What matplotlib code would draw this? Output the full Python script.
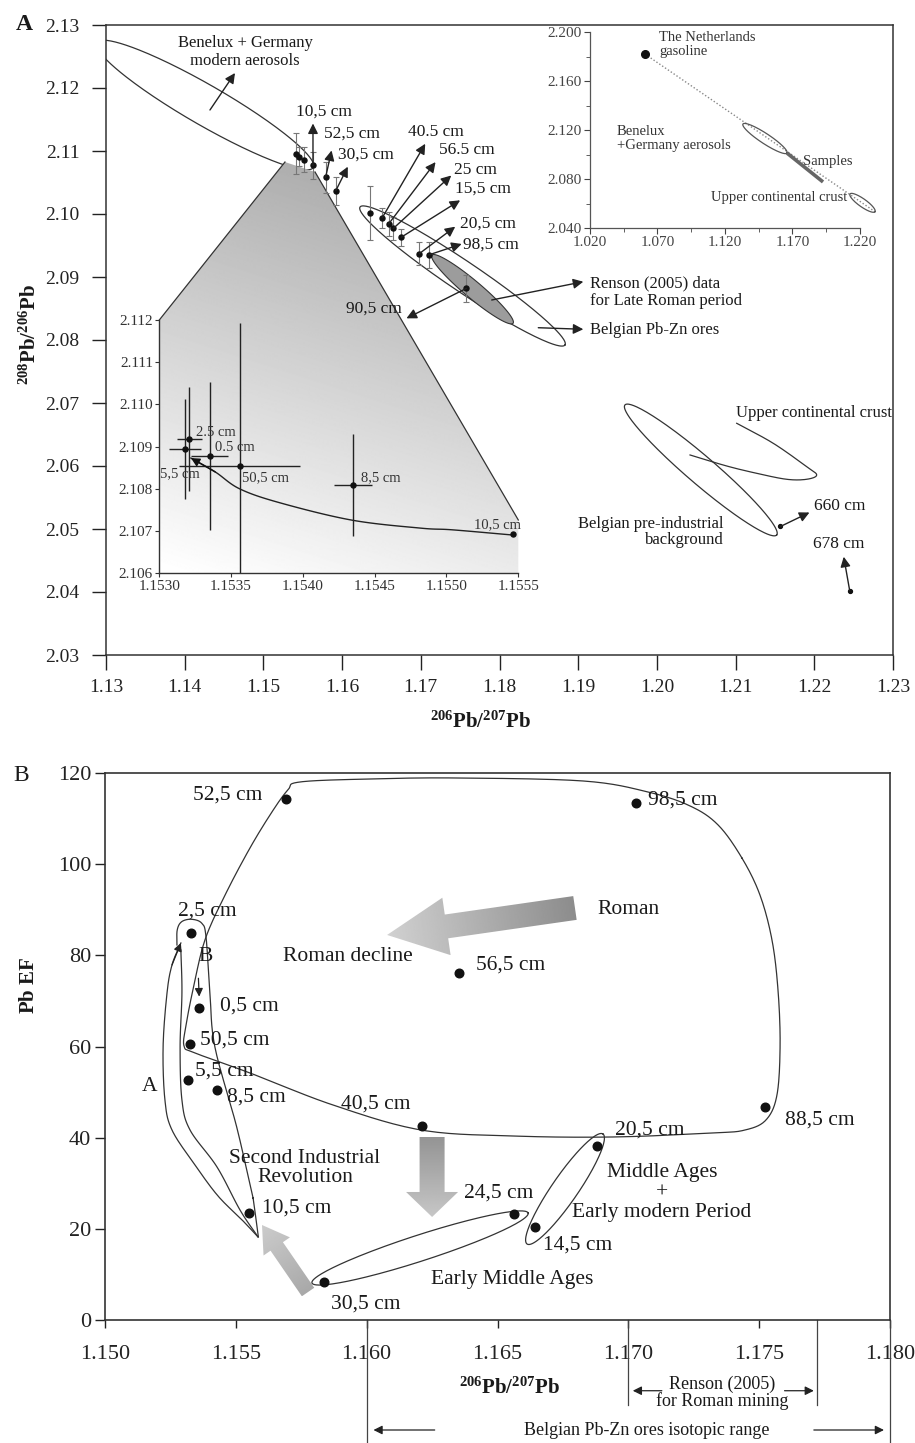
import numpy as np
import matplotlib
matplotlib.use('Agg')
import matplotlib.pyplot as plt
from matplotlib.patches import Polygon
import matplotlib.transforms as mtransforms

plt.rcParams['font.family'] = ['Liberation Serif', 'DejaVu Serif']
plt.rcParams['mathtext.fontset'] = 'custom'
plt.rcParams['mathtext.rm'] = 'Liberation Serif'
plt.rcParams['mathtext.bf'] = 'Liberation Serif:bold'
plt.rcParams['mathtext.it'] = 'Liberation Serif:italic'
plt.rcParams['text.color'] = '#1a1a1a'

# ============================ DATA ============================
# ---- Panel A, main plot: 206Pb/207Pb vs 208Pb/206Pb
a_labels = ['', '', '', '10,5 cm', '52,5 cm', '30,5 cm', '', '40.5 cm',
            '56.5 cm', '25 cm', '15,5 cm', '20,5 cm', '98,5 cm', '90,5 cm']
a_x = [1.1541, 1.1545, 1.1552, 1.1563, 1.1579, 1.1592, 1.1636, 1.1651,
       1.1659, 1.1665, 1.1675, 1.1698, 1.1710, 1.1758]
a_y = [2.1096, 2.1091, 2.1086, 2.1077, 2.1058, 2.1037, 2.1002, 2.0994,
       2.0984, 2.0977, 2.0963, 2.0937, 2.0935, 2.0882]
a_err = [0.0033, 0.0015, 0.0020, 0.0022, 0.0024, 0.0022, 0.0043, 0.0016,
         0.0019, 0.0019, 0.0013, 0.0018, 0.0021, 0.0021]

deep_labels = ['660 cm', '678 cm']
deep_x = [1.2157, 1.2245]
deep_y = [2.0504, 2.0402]

a_xticks = [1.13, 1.14, 1.15, 1.16, 1.17, 1.18, 1.19, 1.20, 1.21, 1.22, 1.23]
a_yticks = [2.03, 2.04, 2.05, 2.06, 2.07, 2.08, 2.09, 2.10, 2.11, 2.12, 2.13]

# isotopic fields (centre, end of long semi-axis)
benelux_c, benelux_tip = (1.14258, 2.11730), (1.15634, 2.10738)
ores_c, ores_tip = (1.17530, 2.09016), (1.18832, 2.07921)
renson_c, renson_tip = (1.17657, 2.08806), (1.18172, 2.08265)
preind_c, preind_tip = (1.20558, 2.05937), (1.21522, 2.04905)
ucc_x = [1.21014, 1.21479, 1.21903, 1.22030, 1.21903, 1.21649, 1.21268, 1.20887, 1.20421]
ucc_y = [2.06678, 2.06360, 2.05989, 2.05857, 2.05789, 2.05789, 2.05884, 2.06000, 2.06175]

# zoom wedge (shaded area leading to the enlarged view)
wedge_x = [1.15274, 1.15656, 1.18239, 1.18239, 1.13677, 1.13677]
wedge_y = [2.10825, 2.10667, 2.05143, 2.04297, 2.04297, 2.08317]

# ---- Panel A, enlarged inset
in_labels = ['2.5 cm', '5,5 cm', '0.5 cm', '50,5 cm', '8,5 cm', '10,5 cm']
in_x = [1.15321, 1.15318, 1.15335, 1.15356, 1.15435, 1.15546]
in_y = [2.10918, 2.10895, 2.10878, 2.10853, 2.10809, 2.10692]
in_xerr = [0.00009, 0.00011, 0.00013, 0.00042, 0.00013, 0.0]
in_yerr = [0.00124, 0.00119, 0.00175, 0.00340, 0.00121, 0.0]
mix_x = [1.15322, 1.15339, 1.15356, 1.15384, 1.15434, 1.15482, 1.15504, 1.15545]
mix_y = [2.10873, 2.10840, 2.10800, 2.10767, 2.10726, 2.10707, 2.10703, 2.10691]
in_xticks = [1.1530, 1.1535, 1.1540, 1.1545, 1.1550, 1.1555]
in_yticks = [2.106, 2.107, 2.108, 2.109, 2.110, 2.111, 2.112]

# ---- Panel A, overview inset (top right)
gas_x, gas_y = 1.0607, 2.1820
ov_benelux_c, ov_benelux_tip = (1.1496, 2.11305), (1.1659, 2.1012)
ov_samples_x = [1.1659, 1.1926]
ov_samples_y = [2.1012, 2.0776]
ov_ucc_c, ov_ucc_tip = (1.22185, 2.06055), (1.2311, 2.0533)
ov_xticks = [1.020, 1.070, 1.120, 1.170, 1.220]
ov_yticks = [2.040, 2.080, 2.120, 2.160, 2.200]

# ---- Panel B: 206Pb/207Pb vs Pb enrichment factor
b_labels = ['52,5 cm', '98,5 cm', '2,5 cm', '56,5 cm', '0,5 cm', '50,5 cm', '5,5 cm',
            '8,5 cm', '40,5 cm', '88,5 cm', '20,5 cm', '10,5 cm', '24,5 cm', '14,5 cm', '30,5 cm']
b_x = [1.15692, 1.17029, 1.15328, 1.16354, 1.15359, 1.15325, 1.15318,
       1.15429, 1.16213, 1.17522, 1.16881, 1.15550, 1.16564, 1.16643, 1.15836]
b_ef = [114.3, 113.4, 85.0, 76.2, 68.4, 60.6, 52.7,
        50.5, 42.6, 46.8, 38.2, 23.4, 23.3, 20.5, 8.4]
b_xticks = [1.150, 1.155, 1.160, 1.165, 1.170, 1.175, 1.180]
b_yticks = [0, 20, 40, 60, 80, 100, 120]

roman_x = [1.17434, 1.17503, 1.17549, 1.17572, 1.17580, 1.17568, 1.17526, 1.17446, 1.17324,
           1.16941, 1.16559, 1.16208, 1.15871, 1.15554, 1.15344, 1.15302, 1.15310, 1.15336,
           1.15382, 1.15459, 1.15554, 1.15638, 1.15699, 1.15745, 1.16013, 1.16338, 1.16827,
           1.17075, 1.17236, 1.17343]
roman_y = [101.36, 93.24, 83.37, 72.40, 60.33, 49.36, 43.88, 41.68, 41.03,
           40.15, 40.37, 41.68, 47.17, 54.19, 58.58, 60.11, 64.72, 72.40,
           83.37, 93.24, 103.55, 111.45, 116.28, 118.03, 118.69, 118.91, 118.25,
           115.84, 112.77, 108.60]
pathA_outer_x = [1.15290, 1.15256, 1.15237, 1.15222, 1.15229, 1.15256, 1.15344, 1.15432, 1.15524, 1.15585]
pathA_outer_y = [82.71, 77.88, 71.74, 59.89, 48.27, 41.68, 34.01, 27.20, 21.94, 18.21]
pathA_inner_x = [1.15290, 1.15294, 1.15287, 1.15294, 1.15325, 1.15428, 1.15516, 1.15585]
pathA_inner_y = [81.17, 71.74, 59.89, 48.27, 41.68, 33.57, 24.13, 18.21]
pathB_x = [1.15275, 1.15276, 1.15293, 1.15331, 1.15370, 1.15386, 1.15401, 1.15420,
           1.15503, 1.15561, 1.15567, 1.15586]
pathB_y = [82.27, 85.56, 87.38, 87.91, 87.03, 84.09, 71.74, 59.89, 42.41, 27.86, 26.33, 18.28]
midages_c, midages_tip = (1.16758, 28.74), (1.16903, 40.81)
earlyma_c, earlyma_tip = (1.16204, 15.80), (1.16617, 23.47)
renson_range = [1.170, 1.1772]
belgian_range = [1.160, 1.180]

# ============================ HELPERS ============================
W, H = 915.0, 1443.0


def rect(l, t, r, b):
    return [l / W, 1 - b / H, (r - l) / W, (b - t) / H]


def ellipse_pts(ax, c, tip, half_w, n=240):
    T = ax.transData
    cc = T.transform(c)
    a = T.transform(tip) - cc
    u = a / np.hypot(*a)
    v = np.array([-u[1], u[0]]) * half_w
    th = np.linspace(0, 2 * np.pi, n)
    P = cc + np.outer(np.cos(th), a) + np.outer(np.sin(th), v)
    return T.inverted().transform(P)


def smooth(ax, xs, ys, closed=False, n=16):
    T = ax.transData
    P = T.transform(np.column_stack([xs, ys]))
    if closed:
        P = np.vstack([P[-1], P, P[0], P[1]])
    else:
        P = np.vstack([2 * P[0] - P[1], P, 2 * P[-1] - P[-2]])
    out = []
    t = np.linspace(0, 1, n, endpoint=False)[:, None]
    for i in range(1, len(P) - 2):
        p0, p1, p2, p3 = P[i - 1], P[i], P[i + 1], P[i + 2]
        out.append(0.5 * (2 * p1 + (-p0 + p2) * t + (2 * p0 - 5 * p1 + 4 * p2 - p3) * t ** 2
                          + (-p0 + 3 * p1 - 3 * p2 + p3) * t ** 3))
    out.append(P[-2][None, :])
    return T.inverted().transform(np.vstack(out))


def gradient_poly(ax, verts, p_from, p_to, g_from, g_to, zorder):
    T = ax.transData
    V = T.transform(np.asarray(verts))
    x0, y0 = V.min(0)
    x1, y1 = V.max(0)
    nx, ny = int(x1 - x0) + 2, int(y1 - y0) + 2
    gx, gy = np.meshgrid(np.linspace(x0, x1, nx), np.linspace(y0, y1, ny))
    a = T.transform(p_from)
    d = T.transform(p_to) - a
    tt = np.clip(((gx - a[0]) * d[0] + (gy - a[1]) * d[1]) / (d @ d), 0, 1)
    img = g_from + (g_to - g_from) * tt
    (dx0, dy0), (dx1, dy1) = T.inverted().transform([[x0, y0], [x1, y1]])
    xl, yl = ax.get_xlim(), ax.get_ylim()
    im = ax.imshow(img, cmap='gray', vmin=0, vmax=1, origin='lower',
                   extent=[dx0, dx1, dy0, dy1], aspect='auto', zorder=zorder,
                   interpolation='bilinear')
    poly = Polygon(verts, closed=True, facecolor='none', edgecolor='none', transform=ax.transData)
    ax.add_patch(poly)
    im.set_clip_path(poly)
    ax.set_xlim(xl)
    ax.set_ylim(yl)


def arrow_verts(ax, tail, tip, shaft, head, headlen):
    T = ax.transData
    a = T.transform(tail)
    b = T.transform(tip)
    d = b - a
    u = d / np.hypot(*d)
    n = np.array([-u[1], u[0]])
    hb = b - u * headlen
    P = [a + n * shaft / 2, hb + n * shaft / 2, hb + n * head / 2, b,
         hb - n * head / 2, hb - n * shaft / 2, a - n * shaft / 2]
    return T.inverted().transform(np.array(P))


fig = plt.figure(figsize=(9.15, 14.43), dpi=100)

# ============================ PANEL A ============================
axA = fig.add_axes(rect(106, 25, 893, 655))
axA.set_xlim(1.13, 1.23)
axA.set_ylim(2.03, 2.13)
axA.set_xticks(a_xticks)
axA.set_xticklabels(['%.2f' % v for v in a_xticks])
axA.set_yticks(a_yticks)
axA.set_yticklabels(['%.2f' % v for v in a_yticks])
axA.tick_params(axis='x', direction='out', length=11, width=1, pad=6, labelsize=14, colors='#222')
axA.tick_params(axis='y', direction='out', length=10, width=1, pad=9, labelsize=14, colors='#222')
for s in axA.spines.values():
    s.set_linewidth(1.1)
    s.set_color('#333')

# Benelux + Germany aerosols field
e = ellipse_pts(axA, benelux_c, benelux_tip, 20)
axA.plot(e[:, 0], e[:, 1], color='#333', lw=0.9, zorder=1)

# zoom wedge with gradient
wv = np.column_stack([wedge_x, wedge_y])
gradient_poly(axA, wv, (1.15465, 2.10778), (1.13813, 2.04349), 0.68, 1.0, 2)
axA.plot([wedge_x[5], wedge_x[0]], [wedge_y[5], wedge_y[0]], color='#333', lw=0.9, zorder=3)
axA.plot([wedge_x[1], wedge_x[2]], [wedge_y[1], wedge_y[2]], color='#333', lw=0.9, zorder=3)

# Belgian ores field and Renson field
e = ellipse_pts(axA, ores_c, ores_tip, 15)
axA.plot(e[:, 0], e[:, 1], color='#333', lw=0.9, zorder=3)
e = ellipse_pts(axA, renson_c, renson_tip, 8.5)
axA.add_patch(Polygon(e, closed=True, facecolor='#9c9c9c', edgecolor='#333', lw=0.8, zorder=3))
# pre-industrial field and upper crust
e = ellipse_pts(axA, preind_c, preind_tip, 14)
axA.plot(e[:, 0], e[:, 1], color='#333', lw=0.9, zorder=3)
u = smooth(axA, ucc_x, ucc_y)
axA.plot(u[:, 0], u[:, 1], color='#333', lw=0.9, zorder=3)

# samples
axA.errorbar(a_x, a_y, yerr=a_err, fmt='none', ecolor='#777', elinewidth=0.8, capsize=2.5,
             capthick=0.8, zorder=4)
axA.plot(a_x, a_y, 'o', color='#111', ms=3.6, zorder=5)
axA.plot(deep_x, deep_y, 'o', color='#111', ms=2.8, zorder=5)

arrow_kw = dict(arrowstyle='<|-', color='#222', lw=1.0, mutation_scale=15, shrinkA=0, shrinkB=0)
a_lab_off = {  # arrow head (dx, dy) and label centre (dx, dy), pixels from the point
    '10,5 cm': (0, 42, 11, 54), '52,5 cm': (6, 27, 26, 44), '30,5 cm': (12, 24, 30, 36),
    '40.5 cm': (43, 74, 54, 86), '56.5 cm': (47, 62, 78, 74), '25 cm': (58, 53, 82, 58),
    '15,5 cm': (59, 37, 82, 49), '20,5 cm': (36, 27, 69, 30), '98,5 cm': (33, 11, 62, 10),
    '90,5 cm': (-60, -30, -93, -20)}
for lab, x, y in zip(a_labels, a_x, a_y):
    if not lab:
        continue
    hx, hy, tx, ty = a_lab_off[lab]
    axA.annotate('', xy=(x, y), xytext=(hx, hy), textcoords='offset pixels', arrowprops=arrow_kw, zorder=6)
    axA.annotate(lab, xy=(x, y), xytext=(tx, ty), textcoords='offset pixels', ha='center',
                 va='center', fontsize=12.5, zorder=6)
deep_off = {'660 cm': (29, 14, 59, 20), '678 cm': (-6, 34, -11, 47)}
for lab, x, y in zip(deep_labels, deep_x, deep_y):
    hx, hy, tx, ty = deep_off[lab]
    axA.annotate('', xy=(x, y), xytext=(hx, hy), textcoords='offset pixels', arrowprops=arrow_kw, zorder=6)
    axA.annotate(lab, xy=(x, y), xytext=(tx, ty), textcoords='offset pixels', ha='center',
                 va='center', fontsize=12.5, zorder=6)

# field labels
head_kw = dict(arrow_kw)
head_kw['arrowstyle'] = '-|>'
axA.text(1.14766, 2.12571, 'Benelux + Germany\nmodern aerosols', ha='center', va='center',
         fontsize=12, linespacing=1.1, zorder=6)
axA.annotate('', xy=(1.14639, 2.12238), xytext=(1.14321, 2.11651), arrowprops=head_kw, zorder=6)
axA.text(1.1915, 2.08762, 'Renson (2005) data\nfor Late Roman period', ha='left', va='center',
         fontsize=12, linespacing=1.1, zorder=6)
axA.annotate('', xy=(1.19065, 2.08925), xytext=(1.17901, 2.08635), arrowprops=head_kw, zorder=6)
axA.text(1.1915, 2.08159, 'Belgian Pb-Zn ores', ha='left', va='center', fontsize=12, zorder=6)
axA.annotate('', xy=(1.19065, 2.08170), xytext=(1.18493, 2.08195), arrowprops=head_kw, zorder=6)
axA.text(1.21005, 2.06841, 'Upper continental crust', ha='left', va='center', fontsize=12, zorder=6)
axA.text(1.20844, 2.04952, 'Belgian pre-industrial\nbackground', ha='right', va='center',
         fontsize=12, linespacing=1.05, zorder=6)

# ---------------- overview inset (top right) ----------------
axO = fig.add_axes(rect(590, 32, 860, 228))
axO.patch.set_alpha(0)
axO.set_xlim(1.020, 1.220)
axO.set_ylim(2.040, 2.200)
axO.spines['top'].set_visible(False)
axO.spines['right'].set_visible(False)
for s in ('left', 'bottom'):
    axO.spines[s].set_color('#555')
    axO.spines[s].set_linewidth(0.9)
axO.set_xticks(ov_xticks)
axO.set_xticklabels(['%.3f' % v for v in ov_xticks])
axO.set_yticks(ov_yticks)
axO.set_yticklabels(['%.3f' % v for v in ov_yticks])
axO.set_xticks([v + 0.025 for v in ov_xticks[:-1]], minor=True)
axO.set_yticks([v + 0.02 for v in ov_yticks[:-1]], minor=True)
axO.tick_params(which='both', direction='out', colors='#444', labelsize=11, pad=2)
axO.tick_params(which='major', length=4)
axO.tick_params(which='minor', length=3)
axO.plot([gas_x, ov_ucc_tip[0]], [gas_y, ov_ucc_tip[1]], color='#888', lw=1.0, ls=(0, (1, 1.5)), clip_on=False)
e = ellipse_pts(axO, ov_benelux_c, ov_benelux_tip, 5)
axO.plot(e[:, 0], e[:, 1], color='#555', lw=0.9)
axO.plot(ov_samples_x, ov_samples_y, color='#666', lw=2.6, solid_capstyle='butt')
e = ellipse_pts(axO, ov_ucc_c, ov_ucc_tip, 4)
axO.plot(e[:, 0], e[:, 1], color='#555', lw=0.9, clip_on=False)
axO.plot([gas_x], [gas_y], 'o', color='#111', ms=5.5)
axO.text(1.0711, 2.1894, 'The Netherlands\ngasoline', ha='left', va='center', fontsize=10.5,
         linespacing=1.1, color='#333')
axO.text(1.040, 2.1131, 'Benelux\n+Germany aerosols', ha='left', va='center', fontsize=10.5,
         linespacing=1.1, color='#333')
axO.text(1.1778, 2.0939, 'Samples', ha='left', va='center', fontsize=10.5, color='#333')
axO.text(1.2104, 2.0645, 'Upper continental crust', ha='right', va='center', fontsize=10.5, color='#333')

# ---------------- enlarged inset ----------------
axI = fig.add_axes(rect(159.3, 320, 518.3, 573.3))
axI.patch.set_alpha(0)
axI.set_xlim(1.1530, 1.1555)
axI.set_ylim(2.106, 2.112)
axI.spines['top'].set_visible(False)
axI.spines['right'].set_visible(False)
for s in ('left', 'bottom'):
    axI.spines[s].set_color('#333')
    axI.spines[s].set_linewidth(1.0)
axI.set_xticks(in_xticks)
axI.set_xticklabels(['%.4f' % v for v in in_xticks])
axI.set_yticks(in_yticks)
axI.set_yticklabels(['%.3f' % v for v in in_yticks])
axI.tick_params(direction='out', length=3, pad=1.5, labelsize=11, colors='#333')
axI.errorbar(in_x, in_y, xerr=in_xerr, yerr=in_yerr, fmt='none', ecolor='#222', elinewidth=1.0, capsize=0)
mc = smooth(axI, mix_x, mix_y)
axI.plot(mc[:, 0], mc[:, 1], color='#222', lw=1.0)
axI.annotate('', xy=(mix_x[0], mix_y[0]), xytext=(mix_x[1], mix_y[1]),
             arrowprops=dict(arrowstyle='-|>', color='#111', lw=1.0, mutation_scale=13, shrinkA=0, shrinkB=0))
axI.plot(in_x, in_y, 'o', color='#111', ms=3.6, zorder=5)
in_off = {'2.5 cm': (26, 7), '0.5 cm': (25, 8), '5,5 cm': (-5, -25), '50,5 cm': (26, -11),
          '8,5 cm': (28, 7), '10,5 cm': (-15, 10)}
for lab, x, y in zip(in_labels, in_x, in_y):
    axI.annotate(lab, xy=(x, y), xytext=in_off[lab], textcoords='offset pixels', ha='center',
                 va='center', fontsize=10.5, color='#333')

fig.text(24 / W, 1 - 24 / H, 'A', fontsize=17, fontweight='bold', ha='center', va='center')
fig.text(30 / W, 1 - 335 / H, r'$\mathbf{^{208}Pb/^{206}Pb}$', rotation=90, fontsize=15,
         ha='center', va='center')
fig.text(480 / W, 1 - 722 / H, r'$\mathbf{^{206}Pb/^{207}Pb}$', fontsize=15, ha='center', va='center')

# ============================ PANEL B ============================
axB = fig.add_axes(rect(105, 773, 890, 1320))
axB.set_xlim(1.150, 1.180)
axB.set_ylim(0, 120)
axB.set_xticks(b_xticks)
axB.set_xticklabels(['%.3f' % v for v in b_xticks])
axB.set_yticks(b_yticks)
axB.set_yticklabels([str(v) for v in b_yticks])
axB.tick_params(axis='x', direction='out', length=6, width=1, pad=12, labelsize=16, colors='#222')
axB.tick_params(axis='y', direction='out', length=7, width=1, pad=3, labelsize=16, colors='#222')
for s in axB.spines.values():
    s.set_linewidth(1.2)
    s.set_color('#333')

# gradient arrows (trend directions)
av = arrow_verts(axB, (1.16796, 90.39), (1.16078, 84.47), 24, 58, 60)
gradient_poly(axB, av, (1.16796, 90.39), (1.16078, 84.47), 0.55, 0.82, 1)
av = arrow_verts(axB, (1.16250, 40.15), (1.16250, 22.60), 25, 52, 25)
gradient_poly(axB, av, (1.16250, 40.15), (1.16250, 22.60), 0.58, 0.78, 1)
av = arrow_verts(axB, (1.15776, 6.14), (1.15600, 20.84), 15, 32, 26)
gradient_poly(axB, av, (1.15776, 6.14), (1.15600, 20.84), 0.66, 0.80, 1)

lk = dict(color='#333', lw=0.9, zorder=3)
r = smooth(axB, roman_x, roman_y, closed=True)
axB.plot(r[:, 0], r[:, 1], **lk)
p = smooth(axB, pathA_outer_x, pathA_outer_y)
axB.plot(p[:, 0], p[:, 1], **lk)
p = smooth(axB, pathA_inner_x, pathA_inner_y)
axB.plot(p[:, 0], p[:, 1], **lk)
p = smooth(axB, pathB_x, pathB_y)
axB.plot(p[:, 0], p[:, 1], **lk)
small_arrow = dict(arrowstyle='-|>', color='#222', lw=0.9, mutation_scale=12, shrinkA=0, shrinkB=0)
axB.annotate('', xy=(pathA_outer_x[0], pathA_outer_y[0]), xytext=(pathA_outer_x[1], pathA_outer_y[1]),
             arrowprops=small_arrow)
axB.annotate('', xy=(1.15360, 70.94), xytext=(1.15357, 74.97), arrowprops=small_arrow)
e = ellipse_pts(axB, midages_c, midages_tip, 13)
axB.plot(e[:, 0], e[:, 1], **lk)
e = ellipse_pts(axB, earlyma_c, earlyma_tip, 13)
axB.plot(e[:, 0], e[:, 1], **lk)

axB.plot(b_x, b_ef, 'o', color='#111', ms=6.2, zorder=5)
b_off = {'52,5 cm': (-24, 4, 'right'), '98,5 cm': (12, 3, 'left'), '2,5 cm': (16, 21, 'center'),
         '56,5 cm': (17, 8, 'left'), '0,5 cm': (21, 2, 'left'), '50,5 cm': (10, 4, 'left'),
         '5,5 cm': (7, 9, 'left'), '8,5 cm': (10, -7, 'left'), '40,5 cm': (-47, 22, 'center'),
         '88,5 cm': (20, -13, 'left'), '20,5 cm': (18, 16, 'left'), '10,5 cm': (13, 5, 'left'),
         '24,5 cm': (-16, 21, 'center'), '14,5 cm': (8, -18, 'left'), '30,5 cm': (42, -22, 'center')}
for lab, x, y in zip(b_labels, b_x, b_ef):
    dx, dy, ha = b_off[lab]
    axB.annotate(lab, xy=(x, y), xytext=(dx, dy), textcoords='offset pixels', ha=ha,
                 va='center', fontsize=15.5, zorder=6)

bt = dict(fontsize=15.5, ha='center', va='center', zorder=6)
axB.text(1.16999, 90.10, 'Roman', **bt)
axB.text(1.15929, 79.70, 'Roman decline', **bt)
axB.text(1.15172, 51.18, 'A', **bt)
axB.text(1.15386, 79.70, 'B', **bt)
axB.text(1.15764, 33.35, 'Second Industrial\nRevolution', linespacing=1.05, **bt)
axB.text(1.17129, 27.93, 'Middle Ages\n+\nEarly modern Period', linespacing=1.08, **bt)
axB.text(1.16555, 8.93, 'Early Middle Ages', **bt)

# ranges below the axis
trB = mtransforms.blended_transform_factory(axB.transData, axB.transAxes)
for xv, yb in [(belgian_range[0], -0.235), (renson_range[0], -0.1554),
               (renson_range[1], -0.1554), (belgian_range[1], -0.235)]:
    axB.plot([xv, xv], [0, yb], transform=trB, color='#444', lw=0.9, clip_on=False)
rng_arrow = dict(arrowstyle='-|>', color='#222', lw=0.9, mutation_scale=13, shrinkA=0, shrinkB=0)
axB.annotate('', xy=(renson_range[0] + 0.00017, -0.1293), xycoords=trB,
             xytext=(renson_range[0] + 0.00128, -0.1293), textcoords=trB, arrowprops=rng_arrow)
axB.annotate('', xy=(renson_range[1] - 0.00011, -0.1293), xycoords=trB,
             xytext=(renson_range[1] - 0.00123, -0.1293), textcoords=trB, arrowprops=rng_arrow)
axB.text(1.17358, -0.1335, 'Renson (2005)\nfor Roman mining', transform=trB, fontsize=13,
         ha='center', va='center', linespacing=0.95)
axB.annotate('', xy=(belgian_range[0] + 0.00026, -0.2011), xycoords=trB,
             xytext=(1.16260, -0.2011), textcoords=trB, arrowprops=rng_arrow)
axB.annotate('', xy=(belgian_range[1] - 0.00023, -0.2011), xycoords=trB,
             xytext=(1.17709, -0.2011), textcoords=trB, arrowprops=rng_arrow)
axB.text(1.17069, -0.2011, 'Belgian Pb-Zn ores isotopic range', transform=trB, fontsize=13,
         ha='center', va='center')

fig.text(21 / W, 1 - 776 / H, 'B', fontsize=17, ha='center', va='center')
fig.text(30 / W, 1 - 985 / H, r'$\mathbf{Pb\ EF}$', rotation=90, fontsize=15, ha='center', va='center')
fig.text(509 / W, 1 - 1388 / H, r'$\mathbf{^{206}Pb/^{207}Pb}$', fontsize=15, ha='center', va='center')

fig.savefig('out.png', dpi=100)
